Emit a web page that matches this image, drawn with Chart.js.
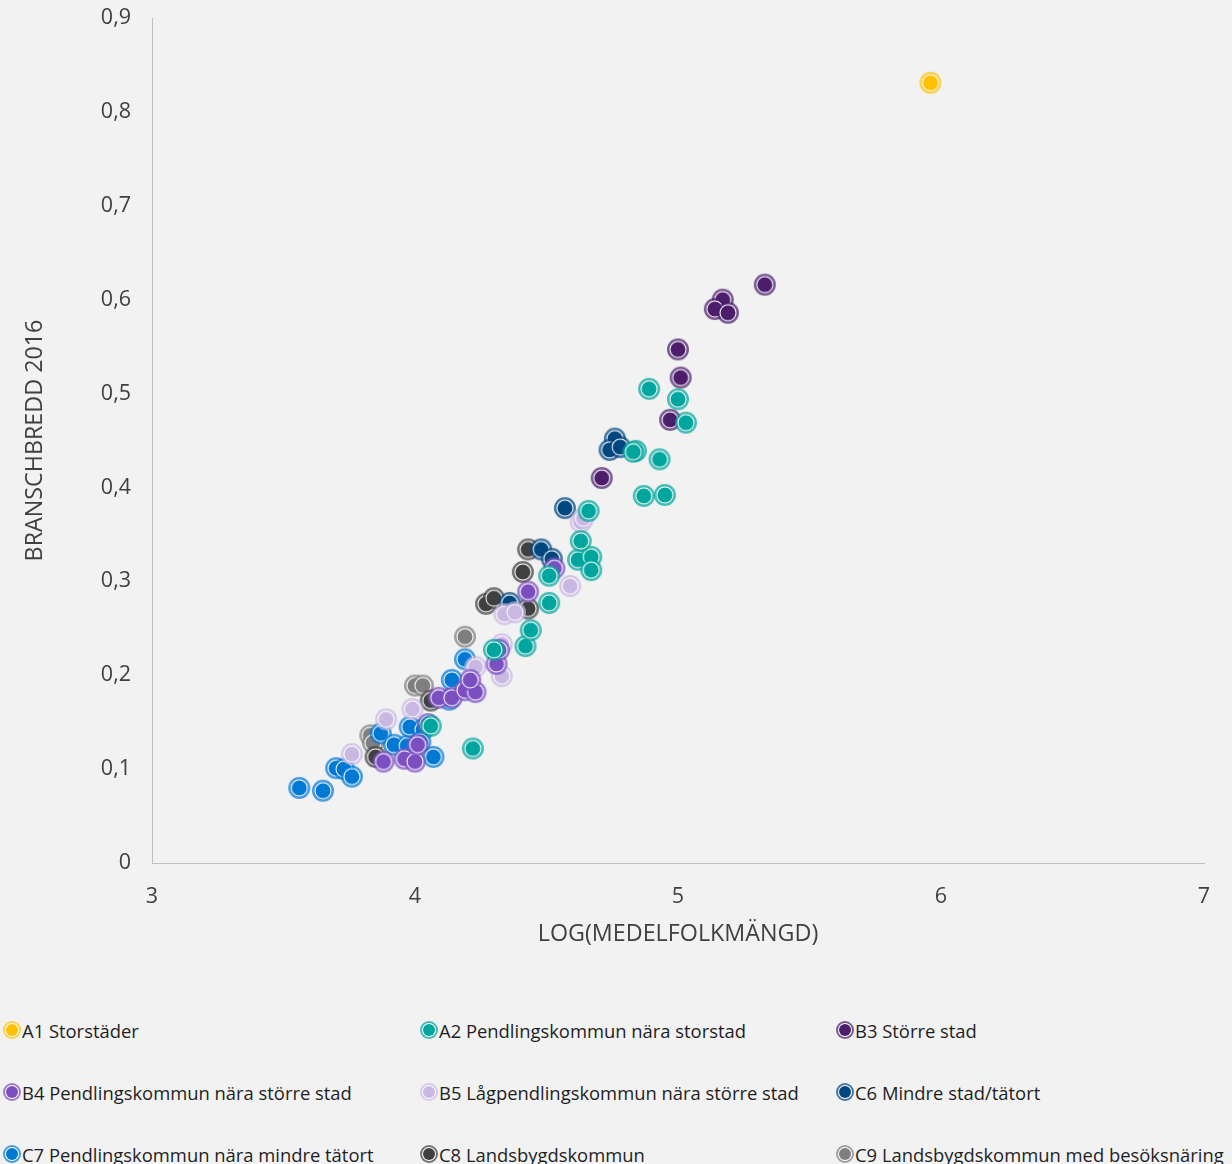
<!DOCTYPE html>
<html>
<head>
<meta charset="utf-8">
<script src="https://cdn.jsdelivr.net/npm/chart.js@4"></script>
<style>
  html, body { margin: 0; padding: 0; background: #f2f2f2; overflow: hidden; }
  body { width: 1232px; height: 1164px; position: relative; font-family: "Open Sans", sans-serif; }
  #wrap { position: absolute; left: 0; top: 0; width: 1232px; height: 960px; }
  #legend { position: absolute; left: 3px; top: 1018px; display: grid;
            grid-template-columns: 417px 416px 400px; grid-auto-rows: 62px; }
  .item { display: flex; align-items: center; height: 24px; font-size: 18.4px; color: #1e1e1e; white-space: nowrap; }
  .dot { width: 12px; height: 12px; border-radius: 50%; margin: 0 4px 0 3px; flex: none; }
</style>
</head>
<body>
<div id="wrap"><canvas id="myChart" width="1232" height="960"></canvas></div>
<div id="legend"></div>
<script>
    /* Series names and colours */

var categories = [
    "A1 Storstäder",
    "A2 Pendlingskommun nära storstad",
    "B3 Större stad",
    "B4 Pendlingskommun nära större stad",
    "B5 Lågpendlingskommun nära större stad",
    "C6 Mindre stad/tätort",
    "C7 Pendlingskommun nära mindre tätort",
    "C8 Landsbygdskommun",
    "C9 Landsbygdskommun med besöksnäring"
];
var colors = ["#ffc000", "#00a59d", "#4b1d6b", "#7b4fc0", "#c9b8e2", "#00467f", "#0078d4", "#404040", "#7f7f7f"];

    /* Values: x = log(medelfolkmängd), y = branschbredd 2016 */

var a1X = [5.96];
var a1Y = [0.831];
var a2X = [4.22, 4.06, 4.30, 4.42, 4.44, 4.51, 4.51, 4.62, 4.67, 4.67, 4.63, 4.66, 4.84, 4.83, 4.93, 4.87, 4.95, 4.89, 5.00, 5.03];
var a2Y = [0.122, 0.146, 0.227, 0.231, 0.248, 0.277, 0.306, 0.323, 0.326, 0.312, 0.343, 0.375, 0.439, 0.438, 0.430, 0.391, 0.392, 0.505, 0.494, 0.469];
var b3X = [5.33, 5.17, 5.14, 5.19, 5.00, 5.01, 4.97, 4.71];
var b3Y = [0.616, 0.600, 0.590, 0.586, 0.547, 0.517, 0.472, 0.410];
var b4X = [3.88, 3.96, 4.00, 4.01, 4.05, 4.09, 4.14, 4.19, 4.23, 4.21, 4.31, 4.32, 4.43, 4.53];
var b4Y = [0.108, 0.111, 0.108, 0.126, 0.148, 0.176, 0.176, 0.184, 0.182, 0.195, 0.212, 0.227, 0.289, 0.314];
var b5X = [3.76, 3.89, 3.99, 4.23, 4.33, 4.33, 4.34, 4.38, 4.59, 4.63, 4.64];
var b5Y = [0.116, 0.153, 0.164, 0.209, 0.233, 0.199, 0.265, 0.267, 0.295, 0.363, 0.367];
var c6X = [4.57, 4.76, 4.74, 4.78, 4.48, 4.52, 4.36];
var c6Y = [0.378, 0.452, 0.440, 0.443, 0.334, 0.324, 0.277];
var c7X = [3.56, 3.65, 3.70, 3.73, 3.76, 3.87, 3.92, 3.97, 3.98, 4.03, 4.07, 4.13, 4.14, 4.19, 4.02];
var c7Y = [0.080, 0.077, 0.101, 0.100, 0.092, 0.138, 0.126, 0.125, 0.145, 0.142, 0.113, 0.174, 0.195, 0.217, 0.129];
var c8X = [3.85, 4.06, 4.27, 4.30, 4.43, 4.41, 4.43];
var c8Y = [0.113, 0.173, 0.276, 0.282, 0.334, 0.310, 0.271];
var c9X = [3.83, 3.84, 4.00, 4.03, 4.19];
var c9Y = [0.136, 0.128, 0.189, 0.189, 0.241];

var seriesX = [a1X, a2X, b3X, b4X, b5X, c6X, c7X, c8X, c9X];
var seriesY = [a1Y, a2Y, b3Y, b4Y, b5Y, c6Y, c7Y, c8Y, c9Y];

var yTicks = [0, 0.1, 0.2, 0.3, 0.4, 0.5, 0.6, 0.7, 0.8, 0.9];

    /* Marker: filled dot, thin white ring, lighter outer ring */

function hexA(hex, a) {
    var n = parseInt(hex.slice(1), 16);
    return "rgba(" + (n >> 16) + "," + ((n >> 8) & 255) + "," + (n & 255) + "," + a + ")";
}

function marker(color) {
    var c = document.createElement("canvas");
    c.width = 24; c.height = 24;
    var g = c.getContext("2d");
    g.beginPath(); g.arc(12, 12, 11, 0, Math.PI * 2);
    g.fillStyle = hexA(color, 0.72); g.fill();
    g.beginPath(); g.arc(12, 12, 8.5, 0, Math.PI * 2);
    g.fillStyle = "#ffffff"; g.fill();
    g.beginPath(); g.arc(12, 12, 7.5, 0, Math.PI * 2);
    g.fillStyle = color; g.fill();
    return c;
}

var datasets = categories.map(function (name, i) {
    return {
        label: name,
        data: seriesX[i].map(function (x, j) { return { x: x, y: seriesY[i][j] }; }),
        pointStyle: marker(colors[i]),
        pointRadius: 11,
        backgroundColor: colors[i]
    };
});

    /* Chart */

const ctx = document.getElementById('myChart').getContext('2d');

Chart.defaults.font.family = "'Open Sans', sans-serif";
Chart.defaults.font.size = 20;
Chart.defaults.color = "#404040";

const myChart = new Chart(ctx, {
    type: 'scatter',
    data: { datasets: datasets },
    options: {
        responsive: false,
        animation: false,
        devicePixelRatio: 1,
        layout: { padding: { top: 18, right: 28, left: 0, bottom: 0 } },
        plugins: {
            legend: { display: false },
            tooltip: { enabled: false }
        },
        scales: {
            x: {
                min: 3, max: 7,
                ticks: { stepSize: 1, padding: 21, color: "#404040", font: { size: 21.5 } },
                grid: { color: "transparent", drawTicks: false },
                border: { color: "#bfbfbf", width: 1 },
                title: { display: true, text: "LOG(MEDELFOLKMÄNGD)", color: "#404040", font: { size: 23.3 }, padding: { top: 0, bottom: 12 } },
                afterFit: function (s) { s.height = 97; s.paddingLeft = 0; s.paddingRight = 0; }
            },
            y: {
                min: 0, max: 0.9,
                afterBuildTicks: function (s) { s.ticks = yTicks.map(function (v) { return { value: v }; }); },
                ticks: {
                    padding: 21, color: "#404040", font: { size: 21.5 },
                    callback: function (v) { return v === 0 ? "0" : v.toFixed(1).replace(".", ","); }
                },
                grid: { color: "transparent", drawTicks: false },
                border: { color: "#bfbfbf", width: 1 },
                title: { display: true, text: "BRANSCHBREDD 2016", color: "#404040", font: { size: 23.3 }, padding: { top: 21, bottom: 0 } },
                afterFit: function (s) { s.width = 152; s.paddingTop = 0; s.paddingBottom = 0; }
            }
        }
    }
});

    /* Legend in three columns */

var legend = document.getElementById("legend");
categories.forEach(function (name, i) {
    var item = document.createElement("div");
    item.className = "item";
    var dot = document.createElement("span");
    dot.className = "dot";
    dot.style.background = colors[i];
    dot.style.boxShadow = "0 0 0 1px #fff, 0 0 0 3px " + hexA(colors[i], 0.72);
    item.appendChild(dot);
    item.appendChild(document.createTextNode(name));
    legend.appendChild(item);
});
</script>
</body>
</html>
